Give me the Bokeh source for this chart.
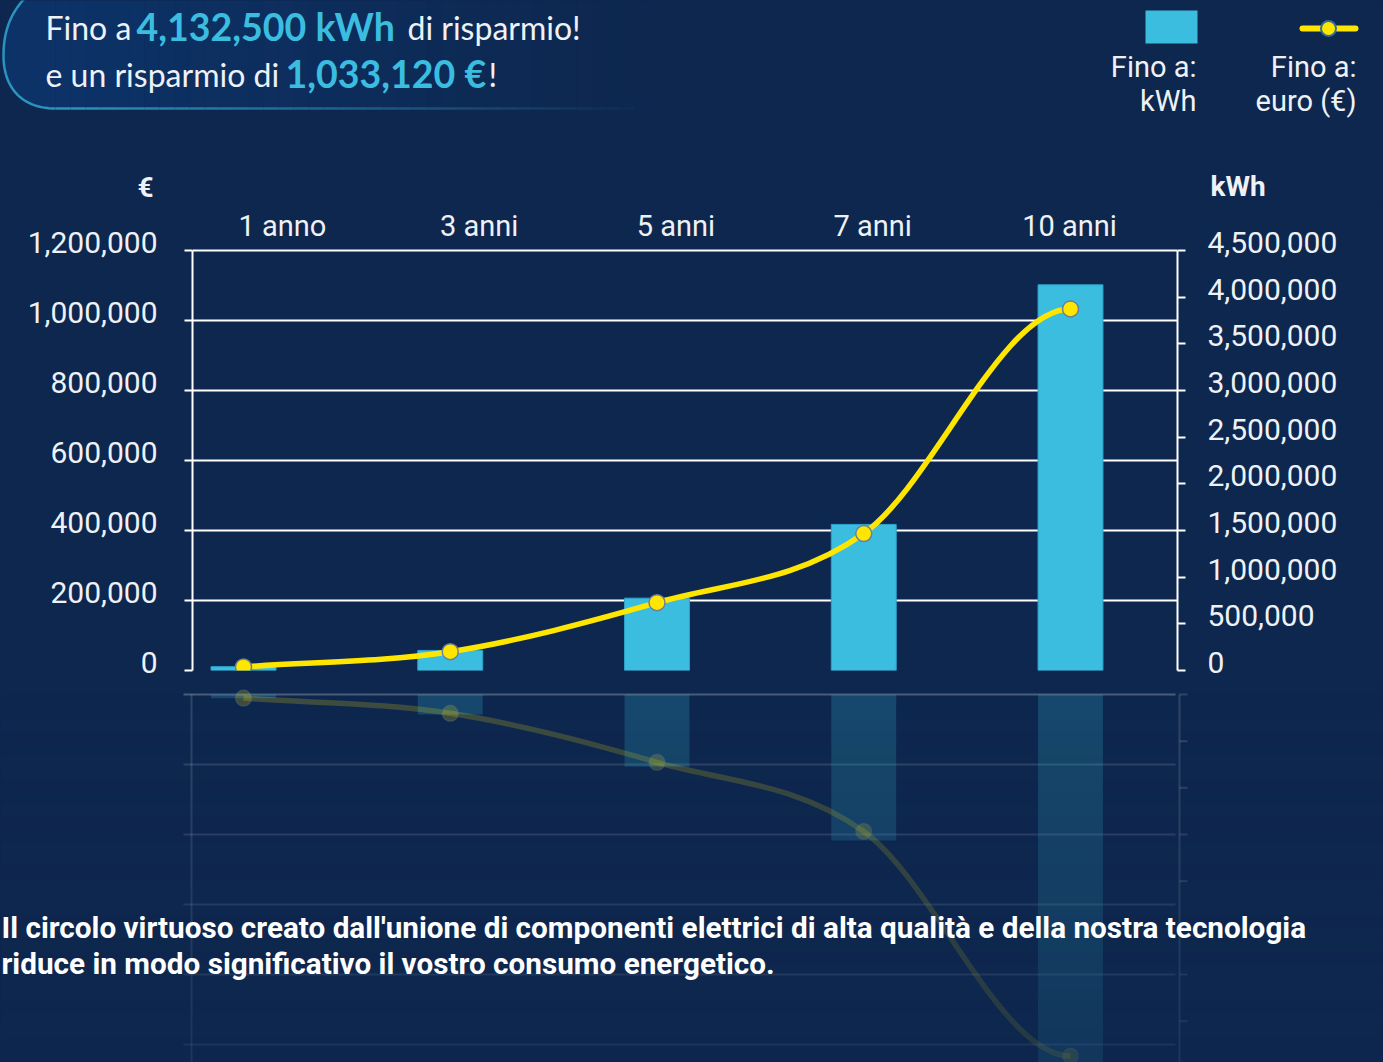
import numpy as np
from bokeh.plotting import figure
from bokeh.models import (Range1d, LinearAxis, FixedTicker, Grid,
                          NumeralTickFormatter, CustomJSTickFormatter, ColumnDataSource)
from bokeh.layouts import column
from bokeh.embed import file_html
from bokeh.resources import INLINE
from bokeh.core.properties import value

# ---------------- data ----------------
periods = ["1 anno", "3 anni", "5 anni", "7 anni", "10 anni"]
kwh_saved = [41325, 215000, 775000, 1565000, 4132500]
euro_saved = [10331, 53750, 193750, 391250, 1033120]
euro_ticks = [0, 200000, 400000, 600000, 800000, 1000000, 1200000]
kwh_ticks = [0, 500000, 1000000, 1500000, 2000000, 2500000, 3000000, 3500000, 4000000, 4500000]
legend_bar_text = ["Fino a:", "kWh"]
legend_line_text = ["Fino a:", "euro (€)"]
paragraph = ["Il circolo virtuoso creato dall'unione di componenti elettrici di alta qualità e della nostra tecnologia",
             "riduce in modo significativo il vostro consumo energetico."]

# ---------------- style / layout ----------------
BG = "#0e274e"
WHITE = "#eef2f7"
CYAN = "#3bbde0"
YELLOW = "#ffe600"
TICK_FONT = "Roboto"
HEAD_FONT = "Lato"

W = 1383
MAIN_TOP = 205
REFL_TOP = 685
PAGE_BOTTOM = 1062
HEAD_H = MAIN_TOP
MAIN_H = REFL_TOP - MAIN_TOP
REFL_H = PAGE_BOTTOM - REFL_TOP
FL, FR, FB = 192, 1177, 670
GRID_TOP = 250
EXT = 8
FT = GRID_TOP - EXT
C0, STEP = 243, 206.75
LC0, LSTEP = 282, 196.75
MIRROR0 = 694
EMAX, KMAX = 1200000, 4500000
e_px = EMAX / (FB - GRID_TOP)
k_px = KMAX / (FB - GRID_TOP)


def xi(px):
    return (px - C0) / STEP


idx = list(range(len(periods)))
e_arr = np.array(euro_saved, dtype=float)
m = np.gradient(e_arr)
m[-1] = 0.0
curve = ColumnDataSource(dict(
    x0=idx[:-1], y0=euro_saved[:-1], x1=idx[1:], y1=euro_saved[1:],
    cx0=[i + 1 / 3 for i in idx[:-1]], cy0=list(e_arr[:-1] + m[:-1] / 3),
    cx1=[i - 1 / 3 for i in idx[1:]], cy1=list(e_arr[1:] - m[1:] / 3)))
pts = ColumnDataSource(dict(x=idx, euro=euro_saved, kwh=kwh_saved))

blank = CustomJSTickFormatter(code="return ''")


def base_fig(**kw):
    p = figure(x_axis_location=None, y_axis_location=None, output_backend="svg", toolbar_location=None,
               background_fill_color=BG, border_fill_color=BG, outline_line_color=None,
               styles={"background-color": BG}, **kw)
    p.grid.visible = False
    p.frame_align = False
    return p


# ---------------- header ----------------
head = base_fig(width=W, height=HEAD_H, x_range=Range1d(0, W), y_range=Range1d(MAIN_TOP, 0), min_border=0)


def bez(p0, c1, c2, p1, n=30):
    t = np.linspace(0, 1, n)[:, None]
    p0, c1, c2, p1 = map(np.array, (p0, c1, c2, p1))
    return ((1 - t) ** 3) * p0 + 3 * ((1 - t) ** 2) * t * c1 + 3 * (1 - t) * t * t * c2 + t ** 3 * p1


cap = np.vstack([bez((55, 108), (22, 108), (3, 88), (3, 55)), bez((3, 55), (3, 28), (12, 10), (26, -4))])
head.patch(list(cap[:, 0]) + [55], list(cap[:, 1]) + [-4], fill_color="#0b3c7c", fill_alpha=0.55, line_color=None)
n = 40
xs_fade = np.linspace(55, 650, n + 1)
head.quad(left=xs_fade[:-1], right=xs_fade[1:], top=[-4] * n, bottom=[108] * n,
          fill_color="#0b3c7c", fill_alpha=list(0.55 * (1 - np.arange(n) / n)), line_color=None)
head.line(cap[:, 0], cap[:, 1], line_color="#2b93bd", line_width=2.5)
head.segment(x0=xs_fade[:-1], x1=xs_fade[1:], y0=[108] * n, y1=[108] * n,
             line_color="#2b93bd", line_alpha=list(1 - np.arange(n) / n), line_width=2.5)

kwh_txt = f"{kwh_saved[-1]:,} kWh"
eur_txt = f"{euro_saved[-1]:,} €"
head.text(x=[45, 407, 45, 488], y=[27, 27, 74, 74], text=["Fino a", "di risparmio!", "e un risparmio di", "!"],
          text_font=value(HEAD_FONT), text_font_size="32px", text_color=WHITE, text_baseline="middle")
head.text(x=[136, 285], y=[26, 73], text=[kwh_txt, eur_txt], text_font=value(HEAD_FONT), text_font_style="bold",
          text_font_size="37.5px", text_color=CYAN, text_baseline="middle")

# legend
head.quad(left=[1145], right=[1197], top=[10], bottom=[43], fill_color=CYAN, line_color=None)
head.segment(x0=[1302], x1=[1355], y0=[28], y1=[28], line_color=YELLOW, line_width=6, line_cap="round")
head.scatter(x=[1328], y=[28], size=15, fill_color=YELLOW, line_color="#2f6fa0", line_width=2)
head.text(x=[1196, 1196], y=[66, 100], text=legend_bar_text, text_align="right", text_baseline="middle",
          text_font=value(TICK_FONT), text_font_size="29px", text_color=WHITE)
head.text(x=[1356, 1356], y=[66, 100], text=legend_line_text, text_align="right", text_baseline="middle",
          text_font=value(TICK_FONT), text_font_size="29px", text_color=WHITE)

# axis unit captions
head.text(x=[145], y=[187], text=["€"], text_align="center", text_baseline="middle", text_font=value(TICK_FONT),
          text_font_style="bold", text_font_size="28px", text_color=WHITE)
head.text(x=[1210], y=[186], text=["kWh"], text_align="left", text_baseline="middle", text_font=value(TICK_FONT),
          text_font_style="bold", text_font_size="28px", text_color=WHITE)

# ---------------- main chart ----------------
main = base_fig(width=W, height=MAIN_H, x_range=Range1d(xi(FL), xi(FR)), y_range=Range1d(0, EMAX + EXT * e_px),
                min_border_left=FL, min_border_right=W - FR, min_border_top=FT - MAIN_TOP,
                min_border_bottom=REFL_TOP - FB)
main.extra_y_ranges = {
    "kwh": Range1d(0, KMAX + EXT * k_px),
    "elbl": Range1d(-8 * e_px, EMAX + (EXT - 8) * e_px),
    "klbl": Range1d(-8 * k_px, KMAX + (EXT - 8) * k_px),
}
main.extra_x_ranges = {"cat": Range1d((FL - LC0) / LSTEP, (FR - LC0) / LSTEP)}

main.add_layout(Grid(dimension=1, ticker=FixedTicker(ticks=euro_ticks), grid_line_color="white",
                     grid_line_width=2))

ax_l = LinearAxis(ticker=FixedTicker(ticks=euro_ticks), formatter=blank, bounds=(0, EMAX),
                  axis_line_color="white", axis_line_width=2, major_tick_line_color="white",
                  major_tick_line_width=2, major_tick_out=8, major_tick_in=0, minor_tick_line_color=None,
                  major_label_standoff=0)
ax_l_lbl = LinearAxis(y_range_name="elbl", ticker=FixedTicker(ticks=euro_ticks),
                      formatter=NumeralTickFormatter(format="0,0"), axis_line_color=None,
                      major_tick_line_color=None, minor_tick_line_color=None, major_tick_out=0,
                      major_label_standoff=27, major_label_text_font=TICK_FONT,
                      major_label_text_font_size="30px", major_label_text_color=WHITE)
main.add_layout(ax_l, "left")
main.add_layout(ax_l_lbl, "left")

ax_r = LinearAxis(y_range_name="kwh", ticker=FixedTicker(ticks=kwh_ticks), formatter=blank, bounds=(0, KMAX),
                  axis_line_color="white", axis_line_width=2, major_tick_line_color="white",
                  major_tick_line_width=2, major_tick_out=8, major_tick_in=0, minor_tick_line_color=None,
                  major_label_standoff=0)
ax_r_lbl = LinearAxis(y_range_name="klbl", ticker=FixedTicker(ticks=kwh_ticks),
                      formatter=NumeralTickFormatter(format="0,0"), axis_line_color=None,
                      major_tick_line_color=None, minor_tick_line_color=None, major_tick_out=0,
                      major_label_standoff=22, major_label_text_font=TICK_FONT,
                      major_label_text_font_size="30px", major_label_text_color=WHITE)
main.add_layout(ax_r, "right")
main.add_layout(ax_r_lbl, "right")

ax_t = LinearAxis(x_range_name="cat", ticker=FixedTicker(ticks=idx),
                  major_label_overrides={i: p for i, p in zip(idx, periods)}, axis_line_color=None,
                  major_tick_line_color=None, minor_tick_line_color=None, major_tick_out=0, major_tick_in=0,
                  major_label_standoff=0, major_label_text_font=TICK_FONT,
                  major_label_text_font_size="29px", major_label_text_color=WHITE)
main.add_layout(ax_t, "above")

main.vbar(x="x", top="kwh", width=0.314, source=pts, y_range_name="kwh", fill_color=CYAN,
          line_color="#2ea3cc", line_width=1)
main.bezier(x0="x0", y0="y0", x1="x1", y1="y1", cx0="cx0", cy0="cy0", cx1="cx1", cy1="cy1",
            source=curve, line_color=YELLOW, line_width=5.5)
main.scatter(x="x", y="euro", source=pts, size=16, fill_color=YELLOW, line_color="#6b7f99", line_width=1.5)

# ---------------- reflection ----------------
refl = base_fig(width=W, height=REFL_H, x_range=Range1d(xi(0), xi(W)),
                y_range=Range1d((PAGE_BOTTOM - MIRROR0) * e_px, (REFL_TOP - MIRROR0) * e_px), min_border=0)
refl.extra_y_ranges = {"kwh": Range1d((PAGE_BOTTOM - MIRROR0) * k_px, (REFL_TOP - MIRROR0) * k_px)}

gx0, gx1 = xi(183), xi(FR - 2)
refl.segment(x0=[gx0] * (len(euro_ticks) - 1), x1=[gx1] * (len(euro_ticks) - 1), y0=euro_ticks[1:],
             y1=euro_ticks[1:], line_color="white", line_alpha=0.14, line_width=2)
refl.segment(x0=[gx0], x1=[gx1], y0=[0], y1=[0], line_color="white", line_alpha=0.25, line_width=2)
refl.segment(x0=[xi(FL - 1)], x1=[xi(FL - 1)], y0=[0], y1=[EMAX], line_color="white", line_alpha=0.14,
             line_width=2)
refl.segment(x0=[xi(FR + 2)], x1=[xi(FR + 2)], y0=[0], y1=[KMAX], y_range_name="kwh", line_color="white",
             line_alpha=0.14, line_width=2)
refl.segment(x0=[xi(FR + 2)] * len(kwh_ticks), x1=[xi(FR + 10)] * len(kwh_ticks), y0=kwh_ticks, y1=kwh_ticks,
             y_range_name="kwh", line_color="white", line_alpha=0.14, line_width=2)
refl.vbar(x="x", top="kwh", width=0.314, source=pts, y_range_name="kwh", fill_color=CYAN, fill_alpha=0.22,
          line_color=None)
refl.bezier(x0="x0", y0="y0", x1="x1", y1="y1", cx0="cx0", cy0="cy0", cx1="cx1", cy1="cy1",
            source=curve, line_color=YELLOW, line_alpha=0.2, line_width=5.5)
refl.scatter(x="x", y="euro", source=pts, size=16, fill_color=YELLOW, fill_alpha=0.2, line_color="#6b7f99",
             line_alpha=0.3, line_width=1.5)

# fade-out of the reflection towards the bottom
nf = 30
fb = np.linspace(MIRROR0, PAGE_BOTTOM, nf + 1)
refl.quad(left=[xi(0)] * nf, right=[xi(W)] * nf, top=list((fb[:-1] - MIRROR0) * e_px),
          bottom=list((fb[1:] - MIRROR0) * e_px), fill_color=BG,
          fill_alpha=list(0.55 * (np.arange(nf) + 0.5) / nf), line_color=None)

refl.text(x=[xi(1)] * 2, y=[(927 - MIRROR0) * e_px, (963 - MIRROR0) * e_px], text=paragraph,
          text_align="left", text_baseline="middle", text_font=value("Noto Sans Condensed, Roboto"),
          text_font_style="bold", text_font_size="29.7px", text_color="white")

layout = column(head, main, refl, spacing=0, styles={"background-color": BG})
html = file_html(layout, INLINE, "Risparmio energetico")
html = html.replace("<body>", f'<body style="background-color:{BG};">', 1)
open("out.html", "w").write(html)
